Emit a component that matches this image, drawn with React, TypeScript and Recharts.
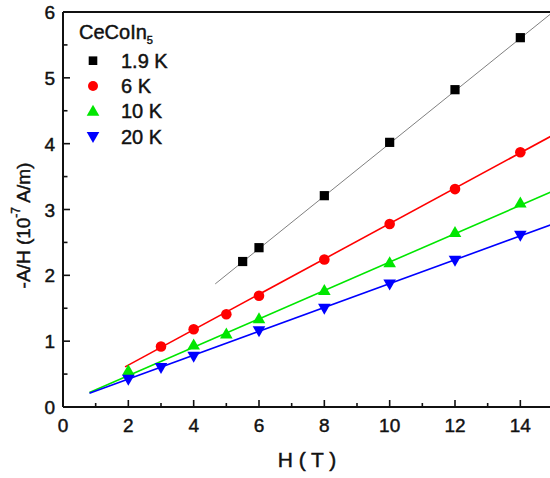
import { ComposedChart, Line, Scatter, XAxis, YAxis } from 'recharts'

// -A/H (10^-7 A/m) vs H (T) for CeCoIn5 at four temperatures
const H_19K = [5.5, 6, 8, 10, 12, 14]
const A_19K = [2.21, 2.42, 3.21, 4.02, 4.82, 5.61]
const H_6K = [3, 4, 5, 6, 8, 10, 12, 14]
const A_6K = [0.92, 1.18, 1.41, 1.69, 2.24, 2.78, 3.31, 3.87]
const H_10K = [2, 4, 5, 6, 8, 10, 12, 14]
const A_10K = [0.55, 0.94, 1.11, 1.34, 1.77, 2.19, 2.65, 3.1]
const H_20K = [2, 3, 4, 6, 8, 10, 12, 14]
const A_20K = [0.42, 0.6, 0.77, 1.16, 1.5, 1.87, 2.23, 2.61]

// linear fits (end points)
const FIT_19K_H = [4.66, 15]
const FIT_19K_A = [1.87, 6.0]
const FIT_6K_H = [1.9, 15]
const FIT_6K_A = [0.61, 4.13]
const FIT_10K_H = [0.81, 15]
const FIT_10K_A = [0.22, 3.28]
const FIT_20K_H = [0.81, 15]
const FIT_20K_A = [0.21, 2.78]

const X_TICKS = [0, 1, 2, 3, 4, 5, 6, 7, 8, 9, 10, 11, 12, 13, 14, 15]
const X_LABELS = [0, 2, 4, 6, 8, 10, 12, 14]
const Y_TICKS = [0, 0.5, 1, 1.5, 2, 2.5, 3, 3.5, 4, 4.5, 5, 5.5, 6]
const Y_LABELS = [0, 1, 2, 3, 4, 5, 6]

const LEGEND = ['1.9 K', '6 K', '10 K', '20 K']

const FONT = '"Liberation Sans", Arial, sans-serif'
const INK = '#111'
// the scanned text is a little heavier than a regular weight
const heavy = { stroke: INK, strokeWidth: 0.45 }

const pts = (xs: number[], ys: number[]) => xs.map((x, i) => ({ x, y: ys[i] }))

const Square = ({ cx, cy, s = 4.6 }: any) => <rect x={cx - s} y={cy - s} width={2 * s} height={2 * s} fill="#000" />
const Circle = ({ cx, cy, r = 5.3 }: any) => <circle cx={cx} cy={cy} r={r} fill="#ff0000" />
const TriUp = ({ cx, cy }: any) => (
  <polygon points={`${cx},${cy - 6.5} ${cx - 6.3},${cy + 4.5} ${cx + 6.3},${cy + 4.5}`} fill="#00e600" />
)
const TriDown = ({ cx, cy }: any) => (
  <polygon points={`${cx - 6.3},${cy - 4.5} ${cx + 6.3},${cy - 4.5} ${cx},${cy + 6.5}`} fill="#0000ff" />
)

const BottomTick = ({ x, y, payload }: any) => {
  const major = X_LABELS.includes(payload.value)
  return (
    <g>
      <line x1={x} x2={x} y1={y} y2={y - (major ? 7 : 4)} stroke={INK} strokeWidth={1.6} />
      {major && (
        <text x={x} y={y + 25} textAnchor="middle" fontSize={19} fontFamily={FONT} fill={INK} {...heavy}>
          {payload.value}
        </text>
      )}
    </g>
  )
}

const TopTick = ({ x, y, payload }: any) => {
  const major = X_LABELS.includes(payload.value)
  return <line x1={x} x2={x} y1={y} y2={y + (major ? 7 : 4.5)} stroke={INK} strokeWidth={1.6} />
}

const LeftTick = ({ x, y, payload }: any) => {
  const major = Y_LABELS.includes(payload.value)
  return (
    <g>
      <line x1={x} x2={x + (major ? 7 : 4.5)} y1={y} y2={y} stroke={INK} strokeWidth={1.6} />
      {major && (
        <text x={x - 8} y={y + 7} textAnchor="end" fontSize={19} fontFamily={FONT} fill={INK} {...heavy}>
          {payload.value}
        </text>
      )}
    </g>
  )
}

const RightTick = ({ x, y, payload }: any) => {
  const major = Y_LABELS.includes(payload.value)
  return <line x1={x} x2={x - (major ? 7 : 4)} y1={y} y2={y} stroke={INK} strokeWidth={1.6} />
}

const YTitle = ({ viewBox }: any) => {
  const vb = viewBox || { x: 0, y: 12, width: 63, height: 395 }
  const cx = vb.x + 23
  const cy = vb.y + vb.height / 2 + 16
  return (
    <text
      x={cx}
      y={cy}
      transform={`rotate(-90 ${cx} ${cy})`}
      textAnchor="middle"
      dominantBaseline="central"
      fontSize={19}
      fontFamily={FONT}
      fill={INK}
      {...heavy}
    >
      -A/H (10<tspan dy={-7} fontSize={12}>-7</tspan>
      <tspan dy={7}> A/m)</tspan>
    </text>
  )
}

const XTitle = ({ viewBox }: any) => {
  const vb = viewBox || { x: 63, y: 407, width: 490, height: 71 }
  return (
    <text x={vb.x + vb.width / 2 - 1} y={vb.y + 60} textAnchor="middle" fontSize={21} fontFamily={FONT} fill={INK} {...heavy}>
      H ( T )
    </text>
  )
}

const legendMarks = [
  (cx: number, cy: number) => <Square cx={cx} cy={cy} s={4.3} />,
  (cx: number, cy: number) => <Circle cx={cx} cy={cy} r={5} />,
  (cx: number, cy: number) => <TriUp cx={cx} cy={cy} />,
  (cx: number, cy: number) => <TriDown cx={cx} cy={cy} />,
]

export default function App() {
  return (
    <div style={{ position: 'absolute', left: 0, top: 0, width: 550, height: 478, overflow: 'hidden', background: '#fff' }}>
      <ComposedChart width={556} height={478} margin={{ top: 11, right: 2, bottom: 0, left: 0 }}>
        <XAxis
          dataKey="x"
          type="number"
          domain={[0, 15]}
          ticks={X_TICKS}
          interval={0}
          allowDataOverflow
          height={71}
          tickSize={0}
          tickMargin={0}
          tickLine={false}
          tick={<BottomTick />}
          axisLine={{ stroke: INK, strokeWidth: 2 }}
          label={{ content: <XTitle /> }}
        />
        <XAxis
          xAxisId="top"
          orientation="top"
          dataKey="x"
          type="number"
          domain={[0, 15]}
          ticks={X_TICKS}
          interval={0}
          height={1}
          tickSize={0}
          tickMargin={0}
          tickLine={false}
          tick={<TopTick />}
          axisLine={{ stroke: INK, strokeWidth: 2 }}
        />
        <YAxis
          type="number"
          domain={[0, 6]}
          ticks={Y_TICKS}
          interval={0}
          allowDataOverflow
          width={63}
          tickSize={0}
          tickMargin={0}
          tickLine={false}
          tick={<LeftTick />}
          axisLine={{ stroke: INK, strokeWidth: 2 }}
          label={{ content: <YTitle /> }}
        />
        <YAxis
          yAxisId="right"
          orientation="right"
          type="number"
          domain={[0, 6]}
          ticks={Y_TICKS}
          interval={0}
          width={1}
          tickSize={0}
          tickMargin={0}
          tickLine={false}
          tick={<RightTick />}
          axisLine={{ stroke: INK, strokeWidth: 2 }}
        />

        <Line data={pts(FIT_19K_H, FIT_19K_A)} dataKey="y" stroke="#808080" strokeWidth={1} dot={false} isAnimationActive={false} />
        <Line data={pts(FIT_6K_H, FIT_6K_A)} dataKey="y" stroke="#ff0000" strokeWidth={1.6} dot={false} isAnimationActive={false} />
        <Line data={pts(FIT_10K_H, FIT_10K_A)} dataKey="y" stroke="#00e600" strokeWidth={1.6} dot={false} isAnimationActive={false} />
        <Line data={pts(FIT_20K_H, FIT_20K_A)} dataKey="y" stroke="#0000ff" strokeWidth={1.6} dot={false} isAnimationActive={false} />

        <Scatter data={pts(H_19K, A_19K)} dataKey="y" shape={<Square />} isAnimationActive={false} />
        <Scatter data={pts(H_6K, A_6K)} dataKey="y" shape={<Circle />} isAnimationActive={false} />
        <Scatter data={pts(H_10K, A_10K)} dataKey="y" shape={<TriUp />} isAnimationActive={false} />
        <Scatter data={pts(H_20K, A_20K)} dataKey="y" shape={<TriDown />} isAnimationActive={false} />
      </ComposedChart>

      <svg width={200} height={160} style={{ position: 'absolute', left: 0, top: 0, pointerEvents: 'none' }}>
        <text x={79} y={39} fontSize={20} fontFamily={FONT} fill={INK} {...heavy}>
          CeCoIn<tspan dy={5} fontSize={11}>5</tspan>
        </text>
        {LEGEND.map((name, i) => {
          const cy = 60.7 + i * 25.3
          return (
            <g key={name}>
              {legendMarks[i](93, cy)}
              <text x={121} y={cy + 7} fontSize={20} fontFamily={FONT} fill={INK} {...heavy}>
                {name}
              </text>
            </g>
          )
        })}
      </svg>
    </div>
  )
}
